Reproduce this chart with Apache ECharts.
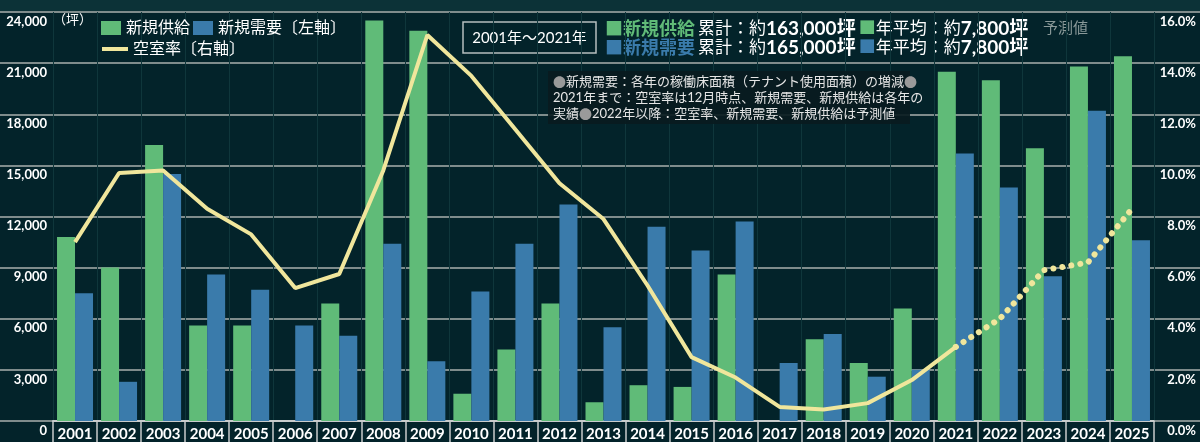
<!DOCTYPE html>
<html>
<head>
<meta charset="utf-8">
<script src="https://cdn.jsdelivr.net/npm/echarts@6/dist/echarts.min.js"></script>
<style>
  html, body { margin: 0; padding: 0; background: #03232a; }
  #chart { width: 1200px; height: 442px; }
</style>
</head>
<body>
<div id="chart"></div>
<script>
// data
var years = ['2001','2002','2003','2004','2005','2006','2007','2008','2009','2010','2011','2012','2013',
             '2014','2015','2016','2017','2018','2019','2020','2021','2022','2023','2024','2025'];
var supply = [10800, 9000, 16200, 5600, 5600, 0, 6900, 23500, 22900, 1600, 4200, 6900, 1100,
              2100, 2000, 8600, 0, 4800, 3400, 6600, 20500, 20000, 16000, 20800, 21400];
var demand = [7500, 2300, 14500, 8600, 7700, 5600, 5000, 10400, 3500, 7600, 10400, 12700, 5500,
              11400, 10000, 11700, 3400, 5100, 2600, 3000, 15700, 13700, 8500, 18200, 10600];
var vacancy = [7.0, 9.7, 9.8, 8.3, 7.3, 5.2, 5.75, 9.8, 15.1, 13.5, 11.4, 9.3, 7.9,
               5.3, 2.5, 1.7, 0.55, 0.45, 0.7, 1.6, 2.9, 4.0, 5.9, 6.2, 8.3];
var leftTicks = { min: 0, max: 24000, interval: 3000 };
var rightTicks = { min: 0, max: 16, interval: 2 };
var lastActual = 20; // 2021

var vacActual = vacancy.map(function (v, i) { return i <= lastActual ? v : null; });
var vacForecast = vacancy.map(function (v, i) { return i >= lastActual ? v : null; });

var FONT = "Lato, 'Noto Sans CJK JP', sans-serif";
var CJK = "'Noto Sans CJK JP', sans-serif";
var GREEN = '#60bb78', BLUE = '#3a7bab', YELLOW = '#f0e69c';
var GRID_LINE = '#7f8c8c';

var chart = echarts.init(document.getElementById('chart'), null, { renderer: 'canvas' });

var option = {
  backgroundColor: '#03232a',
  animation: false,
  textStyle: { fontFamily: FONT },
  grid: [
    { left: 53, right: 46, top: 12, bottom: 21 },
    // full-width grid only for the horizontal rules
    { left: 0, right: 0, top: 12, bottom: 21 }
  ],
  legend: [{
    data: ['新規供給', '新規需要〔左軸〕'],
    left: 101, top: 20, padding: 0,
    itemWidth: 20, itemHeight: 14, itemGap: 3,
    icon: 'rect',
    textStyle: { color: '#fff', fontSize: 16, fontFamily: FONT }
  }, {
    data: ['空室率〔右軸〕'],
    left: 102, top: 41, padding: 0,
    itemWidth: 26, itemHeight: 4,
    icon: 'rect',
    textStyle: { color: '#fff', fontSize: 16, fontFamily: FONT }
  }],
  xAxis: [{
    gridIndex: 0,
    type: 'category',
    data: years,
    axisLine: { lineStyle: { color: '#c9cccc', width: 2 } },
    axisTick: { show: true, length: 21, lineStyle: { color: '#c9cccc', width: 1.5 } },
    axisLabel: { color: '#fff', fontSize: 15, fontWeight: 'bold', margin: 6, interval: 0 },
    splitLine: { show: true, lineStyle: { color: '#0f363b', width: 1 } }
  }, {
    gridIndex: 1, type: 'value', show: false, min: 0, max: 1
  }],
  yAxis: [{
    gridIndex: 0,
    type: 'value',
    min: leftTicks.min, max: leftTicks.max, interval: leftTicks.interval,
    axisLine: { show: false }, axisTick: { show: false },
    splitLine: { show: false },
    axisLabel: { color: '#fff', fontSize: 13, fontWeight: 'bold', verticalAlign: 'top', padding: [3, 0, 0, 0], margin: 6 }
  }, {
    gridIndex: 0,
    type: 'value',
    position: 'right',
    min: rightTicks.min, max: rightTicks.max, interval: rightTicks.interval,
    axisLine: { show: false }, axisTick: { show: false },
    splitLine: { show: false },
    axisLabel: {
      color: '#fff', fontSize: 13, fontWeight: 'bold', verticalAlign: 'top', padding: [3, 0, 0, 0],
      align: 'right', margin: 42,
      formatter: function (v) { return v.toFixed(1) + '%'; }
    }
  }, {
    gridIndex: 1,
    type: 'value',
    min: 0, max: 8, interval: 1,
    axisLine: { show: false }, axisTick: { show: false }, axisLabel: { show: false },
    splitLine: { show: true, lineStyle: { color: GRID_LINE, width: 2 } }
  }],
  series: [{
    name: '新規供給',
    type: 'bar',
    data: supply,
    barWidth: 18, barGap: '0%',
    itemStyle: { color: GREEN },
    z: 3
  }, {
    name: '新規需要〔左軸〕',
    type: 'bar',
    data: demand,
    barWidth: 18, barGap: '0%',
    itemStyle: { color: BLUE },
    z: 3
  }, {
    name: '空室率〔右軸〕',
    type: 'line',
    yAxisIndex: 1,
    data: vacActual,
    color: YELLOW,
    symbol: 'none',
    lineStyle: { color: YELLOW, width: 4 },
    z: 5
  }, {
    name: '空室率予測',
    type: 'line',
    yAxisIndex: 1,
    data: vacForecast,
    color: YELLOW,
    symbol: 'none',
    lineStyle: { color: YELLOW, width: 6, type: [0.1, 9], cap: 'round' },
    z: 5
  }],
  graphic: [{
    type: 'rect', z: -10, silent: true,
    shape: { x: 0, y: 0, width: 1200, height: 12 },
    style: { fill: '#0c3237' }
  }, {
    type: 'text', x: 53, y: 13,
    style: { text: '（坪）', fill: '#fff', fontSize: 13, fontFamily: CJK }
  }, {
    type: 'rect',
    shape: { x: 463, y: 22, width: 133, height: 31 },
    style: { fill: 'none', stroke: '#b7bfbf', lineWidth: 1.5 }
  }, {
    type: 'text', x: 529.5, y: 38,
    style: { text: '2001年～2021年', fill: '#fff', fontSize: 15, fontFamily: FONT, align: 'center', verticalAlign: 'middle' }
  }, {
    type: 'text', x: 605, y: 29,
    style: {
      text: '{g|■新規供給} {w|累計：約}{n|163,000坪} {gs|■}{w|年平均：約}{n|7,800坪}',
      verticalAlign: 'middle', fontFamily: FONT,
      rich: {
        g: { fill: GREEN, fontSize: 18, fontWeight: 'bold', fontFamily: FONT },
        gs: { fill: GREEN, fontSize: 17, fontFamily: FONT },
        w: { fill: '#fff', fontSize: 17, fontFamily: FONT },
        n: { fill: '#fff', fontSize: 19, fontWeight: 'bold', fontFamily: FONT }
      }
    }
  }, {
    type: 'text', x: 605, y: 48,
    style: {
      text: '{g|■新規需要} {w|累計：約}{n|165,000坪} {gs|■}{w|年平均：約}{n|7,800坪}',
      verticalAlign: 'middle', fontFamily: FONT,
      rich: {
        g: { fill: BLUE, fontSize: 18, fontWeight: 'bold', fontFamily: FONT },
        gs: { fill: BLUE, fontSize: 17, fontFamily: FONT },
        w: { fill: '#fff', fontSize: 17, fontFamily: FONT },
        n: { fill: '#fff', fontSize: 19, fontWeight: 'bold', fontFamily: FONT }
      }
    }
  }, {
    type: 'text', x: 1043, y: 28,
    style: { text: '予測値', fill: '#8a9999', fontSize: 15, fontFamily: FONT, verticalAlign: 'middle' }
  }, {
    type: 'rect', z: 10,
    shape: { x: 548, y: 71, width: 362, height: 53 },
    style: { fill: 'rgba(9,27,31,0.92)' }
  }, {
    type: 'text', x: 553, y: 74, z: 11,
    style: {
      text: '{d|●}新規需要：各年の稼働床面積（テナント使用面積）の増減{d|●}\n' +
            '2021年まで：空室率は12月時点、新規需要、新規供給は各年の\n' +
            '実績{d|●}2022年以降：空室率、新規需要、新規供給は予測値',
      fill: '#e6e6e6', fontSize: 13, lineHeight: 16, fontFamily: FONT,
      rich: { d: { fill: '#9a9a9a', fontSize: 13, lineHeight: 16, fontFamily: CJK } }
    }
  }]
};

chart.setOption(option);
</script>
</body>
</html>
